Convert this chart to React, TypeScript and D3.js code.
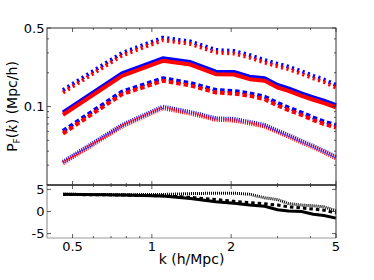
import React from 'react';
import * as d3 from 'd3';

const K = [0.46, 0.77, 1.1, 1.4, 1.75, 2.05, 2.35, 2.68, 3.0, 3.3, 3.7, 4.1, 4.5, 5.0];

const topDotBlue = [0.1402, 0.2995, 0.4099, 0.3792, 0.3185, 0.312, 0.2873, 0.2594, 0.24, 0.2262, 0.2058, 0.1876, 0.1739, 0.1554];
const topDotRed = [0.1332, 0.2845, 0.3894, 0.3602, 0.3026, 0.2964, 0.2729, 0.2464, 0.228, 0.2149, 0.1955, 0.1782, 0.1652, 0.1476];
const solidBlue = [0.0888, 0.1975, 0.2687, 0.2489, 0.2041, 0.2028, 0.1842, 0.1783, 0.1554, 0.1452, 0.1311, 0.1208, 0.1126, 0.1031];
const solidRed = [0.0844, 0.1876, 0.2553, 0.2365, 0.1939, 0.1927, 0.175, 0.1694, 0.1476, 0.1379, 0.1245, 0.1148, 0.107, 0.0985];
const dashBlue = [0.0605, 0.1354, 0.1783, 0.1619, 0.1402, 0.1374, 0.1311, 0.1223, 0.1074, 0.0979, 0.0884, 0.0798, 0.0735, 0.0684];
const dashRed = [0.0575, 0.1286, 0.1694, 0.1538, 0.1332, 0.1305, 0.1245, 0.1162, 0.102, 0.093, 0.084, 0.0758, 0.0698, 0.065];
const fineBlue = [0.0322, 0.0684, 0.0996, 0.0893, 0.0785, 0.0774, 0.0728, 0.0684, 0.0611, 0.0557, 0.0493, 0.0445, 0.0402, 0.0357];
const fineRed = [0.0312, 0.0663, 0.0966, 0.0866, 0.0761, 0.0751, 0.0706, 0.0663, 0.0593, 0.054, 0.0478, 0.0432, 0.039, 0.0346];

const diffSolid = [3.9, 3.75, 3.5, 2.95, 2.2, 1.85, 1.45, 1.2, 0.4, 0.1, 0.0, -0.6, -0.9, -1.5];
const diffDash = [3.85, 3.75, 3.55, 3.2, 2.7, 2.3, 2.0, 1.75, 1.45, 1.05, 0.8, 0.55, 0.3, -0.35];
const diffDot = [3.9, 3.8, 3.85, 4.05, 4.15, 4.15, 3.9, 3.1, 2.7, 1.8, 1.45, 1.3, 1.05, 0.2];

const xMajor = [0.5, 1, 2, 5];
const xMajorLabels = ['0.5', '1', '2', '5'];
const xMinor = [0.6, 0.7, 0.8, 0.9, 3, 4];
const yTopMajor = [0.1, 0.5];
const yTopLabels = ['0.1', '0.5'];
const yTopMinor = [0.03, 0.04, 0.05, 0.06, 0.07, 0.08, 0.09, 0.2, 0.3, 0.4];
const yBotMajor = [-5, 0, 5];
const yBotLabels = ['-5', '0', '5'];

export default function App() {
  const W = 374, H = 280;
  const L = 47, R = 336, T = 28, M = 185, B = 238;
  const x = d3.scaleLog().domain([0.4, 5]).range([L, R]);
  const yT = d3.scaleLog().domain([0.02, 0.5]).range([M, T]);
  const yB = d3.scaleLinear().domain([-6, 6]).range([B, M]);
  const lineT = (vals: number[]) =>
    d3.line<number>().x((_, i) => x(K[i])).y((v) => yT(v))(vals) || '';
  const lineB = (vals: number[]) =>
    d3.line<number>().x((_, i) => x(K[i])).y((v) => yB(v))(vals) || '';
  const font = 'DejaVu Sans, sans-serif';
  const frame = '#333';
  const grayF = '#999';

  const groups = [
    { b: topDotBlue, r: topDotRed, dash: '2.2,3.4', w: 4 },
    { b: solidBlue, r: solidRed, dash: undefined, w: 4 },
    { b: dashBlue, r: dashRed, dash: '4.5,3', w: 4 },
    { b: fineBlue, r: fineRed, dash: '1,1.2', w: 4 },
  ];

  return (
    <svg width={W} height={H} style={{ position: 'absolute', left: 0, top: 0 }} fontFamily={font}>
      <rect width={W} height={H} fill="#fff" />
      <g fill="none" strokeLinejoin="round">
        {groups.map((g, i) => (
          <g key={i}>
            <path d={lineT(g.b)} stroke="#0000ff" strokeWidth={g.w} strokeDasharray={g.dash} />
            <path d={lineT(g.r)} stroke="#ff0000" strokeWidth={g.w} strokeDasharray={g.dash} />
          </g>
        ))}
      </g>
      <g fill="none" stroke="#000">
        <path d={lineB(diffDot)} strokeWidth={3} strokeDasharray="1,1" />
        <path d={lineB(diffDash)} strokeWidth={3} strokeDasharray="3.5,3" />
        <path d={lineB(diffSolid)} strokeWidth={3} />
      </g>
      <rect x={L} y={T} width={R - L} height={M - T} fill="none" stroke={frame} strokeWidth={1} />
      <line x1={L} x2={L} y1={M} y2={B} stroke={grayF} strokeWidth={1.2} />
      <line x1={L} x2={R} y1={B} y2={B} stroke={grayF} strokeWidth={1.2} />
      <line x1={R} x2={R} y1={M} y2={B} stroke={frame} strokeWidth={1} />
      <line x1={L} x2={R} y1={M} y2={M} stroke="#000" strokeWidth={1} />
      <g stroke={frame} strokeWidth={0.8}>
        {xMajor.map((k) => (
          <g key={'xm' + k}>
            <line x1={x(k)} x2={x(k)} y1={T} y2={T + 4} />
            <line x1={x(k)} x2={x(k)} y1={M} y2={M - 4} />
            <line x1={x(k)} x2={x(k)} y1={M} y2={M + 4} />
            <line x1={x(k)} x2={x(k)} y1={B} y2={B - 4} />
          </g>
        ))}
        {xMinor.map((k) => (
          <g key={'xn' + k}>
            <line x1={x(k)} x2={x(k)} y1={T} y2={T + 2} />
            <line x1={x(k)} x2={x(k)} y1={M} y2={M - 2} />
            <line x1={x(k)} x2={x(k)} y1={M} y2={M + 2} />
            <line x1={x(k)} x2={x(k)} y1={B} y2={B - 2} />
          </g>
        ))}
        {yTopMajor.map((v) => (
          <g key={'ym' + v}>
            <line x1={L} x2={L + 4} y1={yT(v)} y2={yT(v)} />
            <line x1={R} x2={R - 4} y1={yT(v)} y2={yT(v)} />
          </g>
        ))}
        {yTopMinor.map((v) => (
          <g key={'yn' + v}>
            <line x1={L} x2={L + 2} y1={yT(v)} y2={yT(v)} />
            <line x1={R} x2={R - 2} y1={yT(v)} y2={yT(v)} />
          </g>
        ))}
        {yBotMajor.map((v) => (
          <g key={'yb' + v}>
            <line x1={L} x2={L + 4} y1={yB(v)} y2={yB(v)} />
            <line x1={R} x2={R - 4} y1={yB(v)} y2={yB(v)} />
          </g>
        ))}
      </g>
      <g fontSize={13} fill="#000">
        {yTopMajor.map((v, i) => (
          <text key={'tl' + v} x={L - 2.5} y={yT(v)} textAnchor="end" dominantBaseline="central">
            {yTopLabels[i]}
          </text>
        ))}
        {yBotMajor.map((v, i) => (
          <text key={'bl' + v} x={L - 2.5} y={yB(v)} textAnchor="end" dominantBaseline="central">
            {yBotLabels[i]}
          </text>
        ))}
        {xMajor.map((k, i) => (
          <text key={'xl' + k} x={x(k)} y={250.5} textAnchor="middle">
            {xMajorLabels[i]}
          </text>
        ))}
      </g>
      <text x={191.5} y={264} fontSize={14} textAnchor="middle">k (h/Mpc)</text>
      <text transform={`translate(17,${(T + M) / 2}) rotate(-90)`} fontSize={14} textAnchor="middle">
        <tspan>P</tspan>
        <tspan fontSize={9} dy={3}>F</tspan>
        <tspan dy={-3}>(</tspan>
        <tspan fontFamily="DejaVu Serif, serif" fontStyle="italic">k</tspan>
        <tspan>) (Mpc/h)</tspan>
      </text>
    </svg>
  );
}
